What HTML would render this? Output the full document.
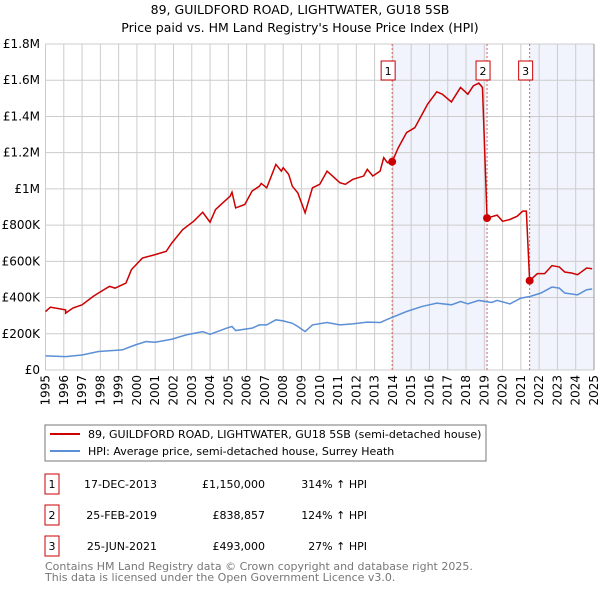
<!DOCTYPE html>
<html><head><meta charset="utf-8"><style>
body{margin:0;background:#fff}
svg{font-family:"DejaVu Sans","Liberation Sans",sans-serif}
</style></head><body>
<svg width="600" height="590">
<text x="300" y="14" text-anchor="middle" font-size="12.5">89, GUILDFORD ROAD, LIGHTWATER, GU18 5SB</text>
<text x="300" y="32" text-anchor="middle" font-size="12.5">Price paid vs. HM Land Registry's House Price Index (HPI)</text>
<g id="plot"></g>
<rect x="45" y="425" width="441" height="36" fill="none" stroke="#777"/>
<g><line x1="50" y1="434" x2="80" y2="434" stroke="#cc0000" stroke-width="2"/><text x="88" y="438" font-size="11">89, GUILDFORD ROAD, LIGHTWATER, GU18 5SB (semi-detached house)</text></g>
<g><line x1="50" y1="451" x2="80" y2="451" stroke="#5b8fd6" stroke-width="2"/><text x="88" y="455" font-size="11">HPI: Average price, semi-detached house, Surrey Heath</text></g>
<g font-size="11">
<g><rect x="45" y="474" width="14" height="20" fill="none" stroke="#cc0000"/><text x="52" y="488" text-anchor="middle">1</text><text x="157" y="488" text-anchor="end">17-DEC-2013</text><text x="265" y="488" text-anchor="end">£1,150,000</text><text x="367" y="488" text-anchor="end">314% ↑ HPI</text></g>
<g><rect x="45" y="505" width="14" height="20" fill="none" stroke="#cc0000"/><text x="52" y="519" text-anchor="middle">2</text><text x="157" y="519" text-anchor="end">25-FEB-2019</text><text x="265" y="519" text-anchor="end">£838,857</text><text x="367" y="519" text-anchor="end">124% ↑ HPI</text></g>
<g><rect x="45" y="536" width="14" height="20" fill="none" stroke="#cc0000"/><text x="52" y="550" text-anchor="middle">3</text><text x="157" y="550" text-anchor="end">25-JUN-2021</text><text x="265" y="550" text-anchor="end">£493,000</text><text x="367" y="550" text-anchor="end">27% ↑ HPI</text></g>
</g>
<text x="45" y="570" font-size="11" fill="#777">Contains HM Land Registry data © Crown copyright and database right 2025.</text>
<text x="45" y="581" font-size="11" fill="#777">This data is licensed under the Open Government Licence v3.0.</text>
</svg>
<script>
const yTicks=[0,200,400,600,800,1000,1200,1400,1600,1800];
const yTickLabels=["£0","£200K","£400K","£600K","£800K","£1M","£1.2M","£1.4M","£1.6M","£1.8M"];
const xYears=[1995,1996,1997,1998,1999,2000,2001,2002,2003,2004,2005,2006,2007,2008,2009,2010,2011,2012,2013,2014,2015,2016,2017,2018,2019,2020,2021,2022,2023,2024,2025];
const redT=[1995.0,1995.27,1996.1,1996.1,1996.5,1997,1997.6,1997.9,1998.5,1998.8,1999.4,1999.7,2000.3,2001,2001.6,2001.9,2002.5,2003.1,2003.6,2004,2004.3,2004.7,2005.1,2005.2,2005.4,2005.9,2006.3,2006.7,2006.8,2007.1,2007.6,2007.9,2008.0,2008.3,2008.5,2008.8,2009.2,2009.6,2010.0,2010.4,2010.7,2011.1,2011.4,2011.8,2012.4,2012.6,2012.9,2013.3,2013.5,2013.7,2013.96,2014.3,2014.75,2015.2,2015.6,2015.9,2016.4,2016.7,2017.2,2017.7,2018.1,2018.4,2018.7,2018.9,2019.15,2019.7,2020.0,2020.4,2020.8,2021.1,2021.3,2021.48,2021.9,2022.3,2022.7,2023.1,2023.4,2023.8,2024.1,2024.6,2024.9];
const redV=[323,347,332,314,342,360,406,425,462,452,480,554,618,637,655,700,775,821,871,816,886,923,960,982,895,914,988,1015,1030,1006,1135,1098,1117,1080,1015,978,868,1006,1025,1098,1071,1034,1025,1052,1071,1108,1071,1098,1172,1145,1150,1228,1311,1338,1412,1468,1536,1523,1480,1560,1523,1569,1584,1560,839,855,821,831,849,877,877,493,532,532,576,569,541,535,526,563,559];
const hpiT=[1995,1996.1,1997,1997.9,1999.2,1999.9,2000.5,2001,2001.9,2002.7,2003.6,2004,2004.9,2005.2,2005.4,2006.3,2006.7,2007.1,2007.6,2008,2008.5,2008.8,2009.2,2009.6,2010.4,2011.1,2011.8,2012.6,2013.3,2013.7,2014.75,2015.6,2016.4,2017.2,2017.7,2018.1,2018.7,2019.4,2019.7,2020.4,2021.0,2021.5,2022.1,2022.7,2023.1,2023.4,2024.1,2024.6,2024.9];
const hpiV=[78,74,83,102,111,138,157,153,170,194,212,197,231,240,218,231,249,249,277,271,258,240,212,249,262,249,255,264,262,280,323,351,369,360,378,365,384,373,384,365,397,406,425,458,452,425,415,443,447];
const saleT=[2013.96,2019.15,2021.48];
const saleV=[1150,838.857,493];
const saleLabels=["1","2","3"];
const NS="http://www.w3.org/2000/svg";
const X0=45.5,X1=594,Y0=370,Y1=44;
const xs=t=>X0+(t-1995)/30*(X1-X0);
const ys=v=>Y0-v/1800*(Y0-Y1);
const g=document.getElementById('plot');
function mk(tag,attrs,parent){const e=document.createElementNS(NS,tag);for(const k in attrs)e.setAttribute(k,attrs[k]);(parent||g).appendChild(e);return e;}
let r=mk('rect',{x:xs(saleT[0]),y:Y1,width:xs(saleT[1])-xs(saleT[0]),height:Y0-Y1,fill:'#f1f4fd'});


r=mk('rect',{x:xs(saleT[2]),y:Y1,width:X1-xs(saleT[2]),height:Y0-Y1,fill:'#f1f4fd'});


for(let i=0;i<yTicks.length;i++){
 let l=mk('line',{x1:X0,x2:X1,y1:ys(yTicks[i]),y2:ys(yTicks[i]),stroke:'#ccc'});
 
 
 let t=mk('text',{x:40,y:ys(yTicks[i])+4,'text-anchor':'end','font-size':12});
 t.textContent=yTickLabels[i];
 
 
}
for(const yr of xYears){
 let l=mk('line',{x1:xs(yr),x2:xs(yr),y1:Y1,y2:Y0,stroke:'#ccc'});
 
 
 let t=mk('text',{x:0,y:0,'text-anchor':'end','font-size':12,transform:`translate(${xs(yr)+4},375) rotate(-90)`});
 t.textContent=yr;
 
 
}
for(let i=0;i<saleT.length;i++){
 let l=mk('line',{x1:xs(saleT[i]),x2:xs(saleT[i]),y1:Y1,y2:Y0,stroke:'#e06060','stroke-dasharray':'2,2'});
 
 
}
let p=mk('polyline',{points:hpiT.map((t,i)=>xs(t)+','+ys(hpiV[i])).join(' '),fill:'none',stroke:'#5b8fd6','stroke-width':1.5});


p=mk('polyline',{points:redT.map((t,i)=>xs(t)+','+ys(redV[i])).join(' '),fill:'none',stroke:'#cc0000','stroke-width':1.5});


for(let i=0;i<saleT.length;i++){
 let c=mk('circle',{cx:xs(saleT[i]),cy:ys(saleV[i]),r:4,fill:'#cc0000'});
 
 
 let b=mk('rect',{x:xs(saleT[i])-11,y:61,width:14,height:19,fill:'#fff',stroke:'#cc0000'});
 
 
 let t=mk('text',{x:xs(saleT[i])-4,y:75,'text-anchor':'middle','font-size':11});
 t.textContent=saleLabels[i];
 
 
}
let ax=mk('line',{x1:X1,x2:X1,y1:Y1,y2:Y0,stroke:'#999'});


</script>
</body></html>
